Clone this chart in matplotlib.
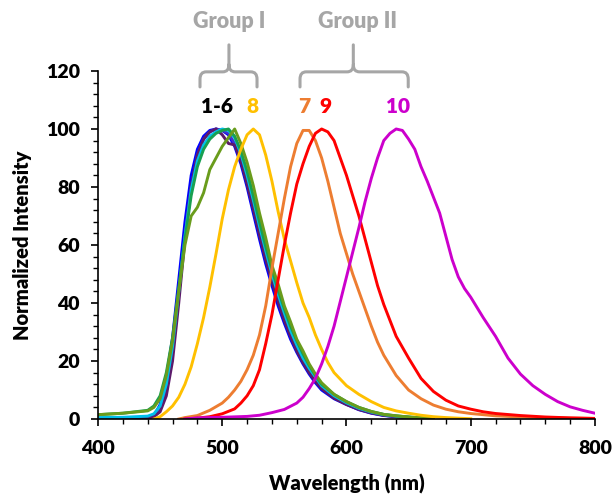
import matplotlib
matplotlib.use("Agg")
import matplotlib.pyplot as plt
from matplotlib.path import Path
from matplotlib.patches import PathPatch
from matplotlib.ticker import MultipleLocator

plt.rcParams['font.family'] = ['Lato', 'DejaVu Sans']
plt.rcParams['font.weight'] = 'heavy'
FW = 'heavy'

# --- data (wavelength in nm, normalized intensity) ---
wl_g1 = [400, 420, 440, 445, 450, 455, 460, 465, 470, 475, 480, 485, 490, 495, 500,
         505, 510, 515, 520, 525, 530, 535, 540, 545, 550, 555, 560, 565, 570, 575,
         580, 590, 600, 610, 620, 630, 640, 650, 660, 670]
s1 = [0, 0, 0.3, 1, 5, 14, 28, 48, 68, 84, 93, 97.5, 99.5, 100, 99.5, 98, 94, 88, 80, 71,
      62, 53.5, 46, 39, 33, 27.5, 23, 19, 15.5, 12.5, 10, 7, 5, 3.2, 2, 1.2, 0.8, 0.5, 0.3, 0.1]
s2 = [0, 0, 0.3, 0.8, 3.5, 11, 24, 43, 63, 80, 91, 96.5, 99, 100, 99.5, 98.5, 95, 89.5, 82, 73,
      64, 55.5, 48, 41, 34.5, 29, 24, 20, 16.5, 13.5, 11, 7.5, 5.3, 3.4, 2.2, 1.3, 0.9, 0.6, 0.3, 0.1]
s3 = [0.3, 0.3, 0.5, 0.8, 2.5, 8, 20, 40, 62, 80, 91, 96.5, 99, 100, 98, 95, 94.5, 89, 81, 72.5,
      63.5, 55, 47.5, 40.5, 34, 28.5, 23.5, 19.5, 16, 13, 10.5, 7.2, 5, 3.3, 2.1, 1.3, 0.8, 0.5, 0.3, 0.1]
s4 = [0.5, 0.6, 1, 1.8, 4.5, 12, 25, 44, 63, 79, 89, 94.5, 97.5, 99, 100, 99.5, 97, 91.5, 84, 75.5,
      66.5, 58, 50, 43, 36.5, 30.5, 25.5, 21, 17.5, 14.5, 11.5, 8, 5.6, 3.7, 2.4, 1.5, 1, 0.6, 0.3, 0.1]
s5 = [1.5, 2, 3, 4.5, 8, 16, 28, 45, 62, 77, 87, 93, 96.5, 98.5, 99.5, 100, 97.5, 92.5, 85.5, 77,
      68, 59.5, 51.5, 44.5, 38, 32, 27, 22.5, 18.5, 15, 12, 8.5, 6, 4, 2.6, 1.6, 1.1, 0.7, 0.4, 0.2]
s6 = [1.5, 2, 2.8, 4, 7, 15, 27, 44, 60, 70, 73, 78, 86, 90, 94, 97, 100, 95, 88.5, 80.5,
      71, 62.5, 53, 46.5, 39, 33.5, 27.5, 23.5, 19, 15.5, 12.5, 8.5, 6, 4, 2.6, 1.6, 1.1, 0.7, 0.4, 0.2]

wl_8 = [445, 450, 455, 460, 465, 470, 475, 480, 485, 490, 495, 500, 505, 510, 515, 520, 525,
        530, 535, 540, 545, 550, 555, 560, 565, 570, 575, 580, 585, 590, 600, 610, 620, 630,
        640, 650, 660, 670, 680, 690, 700]
s8 = [0, 0.8, 2.5, 4.5, 7.5, 12, 18, 26, 35, 45.5, 57, 69, 79, 87, 93, 98, 100,
      98, 91, 82, 71.5, 62, 54.5, 47, 40, 35, 29, 24, 19.5, 16, 11.5, 8.5, 6, 4,
      2.8, 2, 1.3, 0.8, 0.5, 0.3, 0.1]

wl_7 = [465, 470, 480, 490, 500, 505, 510, 515, 520, 525, 530, 535, 540, 545, 550, 555, 560,
        565, 570, 575, 580, 585, 590, 595, 600, 605, 610, 615, 620, 625, 630, 640, 650, 660,
        670, 680, 690, 700, 720, 740, 760, 780, 800]
s7 = [0, 0.5, 1.2, 3, 5.5, 7.5, 10, 13, 17, 22, 29, 39, 52, 64, 76, 87, 95,
      99.5, 99.5, 96, 90, 82, 73, 64, 57, 50, 44, 38, 32, 26.5, 22, 15, 10, 7,
      4.8, 3.4, 2.5, 1.9, 1.1, 0.7, 0.5, 0.3, 0.2]

wl_9 = [470, 480, 490, 500, 510, 515, 520, 525, 530, 535, 540, 545, 550, 555, 560, 565, 570,
        575, 580, 585, 590, 595, 600, 605, 610, 615, 620, 625, 630, 640, 650, 660, 670, 680,
        690, 700, 710, 720, 740, 760, 780, 800]
s9 = [0, 0.3, 0.8, 1.8, 3.5, 5.5, 8, 11.5, 17, 26, 36, 48, 60, 71, 81, 88, 94,
      98.5, 100, 99, 96, 90, 84, 77, 70, 62, 54, 46, 39.5, 28.5, 21, 14, 9.5, 6.5,
      4.5, 3.4, 2.5, 1.9, 1.2, 0.7, 0.4, 0.2]

wl_10 = [470, 480, 500, 520, 530, 540, 550, 560, 565, 570, 575, 580, 585, 590, 595, 600, 605,
         610, 615, 620, 625, 630, 635, 640, 645, 650, 655, 660, 665, 670, 675, 680, 685, 690,
         695, 700, 710, 720, 730, 740, 750, 760, 770, 780, 790, 800]
s10 = [0, 0.4, 0.6, 0.9, 1.3, 2.2, 3.3, 5.5, 7.5, 10.5, 14, 19, 25, 32, 40.5, 49, 57.5,
       66, 75, 83, 90, 96, 98.5, 100, 99.5, 96.5, 93, 87, 82, 76.5, 71, 63, 55, 49,
       45, 42, 35, 28.5, 21, 15.5, 11.5, 8.5, 6, 4.2, 3, 2]

group1 = [s1, s2, s3, s4, s5, s6]
group1_colors = ['#0000FF', '#4433CC', '#5C1A6B', '#00BFEA', '#18A050', '#6A9C1C']

labels = ['1-6', '8', '7', '9', '10']
label_x = [495.5, 524.5, 566, 583.3, 641.7]
label_colors = ['black', '#FFC000', '#ED7D31', '#FF0000', '#CC00CC']

fig = plt.figure(figsize=(6.14, 4.96), dpi=100)
ax = fig.add_axes([0.1596, 0.1552, 0.8094, 0.7017])

lw = 2.1
for s, c in zip(group1, group1_colors):
    ax.plot(wl_g1, s, color=c, lw=lw)
ax.plot(wl_8, s8, color='#FFC000', lw=lw)
ax.plot(wl_7, s7, color='#ED7D31', lw=lw)
ax.plot(wl_9, s9, color='#FF0000', lw=lw)
ax.plot(wl_10, s10, color='#CC00CC', lw=lw)

ax.set_xlim(400, 800)
ax.set_ylim(0, 120)
ax.xaxis.set_major_locator(MultipleLocator(100))
ax.xaxis.set_minor_locator(MultipleLocator(20))
ax.yaxis.set_major_locator(MultipleLocator(20))
ax.yaxis.set_minor_locator(MultipleLocator(4))
ax.spines['top'].set_visible(False)
ax.spines['right'].set_visible(False)
for sp in ['left', 'bottom']:
    ax.spines[sp].set_linewidth(1.2)
ax.tick_params(which='major', direction='out', length=5, width=1.2, labelsize=14)
ax.tick_params(which='minor', direction='out', length=3.5, width=1.0)
ax.tick_params(axis='x', which='major', pad=10)
ax.tick_params(axis='y', which='major', pad=8)
for lab in ax.get_xticklabels() + ax.get_yticklabels():
    lab.set_fontweight(FW)

ax.set_xlabel('Wavelength (nm)', fontsize=14.5, fontweight=FW, labelpad=12)
ax.set_ylabel('Normalized Intensity', fontsize=14.5, fontweight=FW, labelpad=10)

# curve labels above the peaks
for t, x, c in zip(labels, label_x, label_colors):
    ax.text(x, 107.7, t, color=c, fontsize=15, fontweight=FW,
            ha='center', va='center', clip_on=False)


def brace(x0, x1, xm, y_bar, y_tip, y_top, rx=5.0, ry=2.5):
    verts = [(x0, y_tip), (x0, y_bar - ry), (x0, y_bar), (x0 + rx, y_bar),
             (xm - rx, y_bar), (xm, y_bar), (xm, y_bar + ry), (xm, y_top),
             (xm, y_bar + ry), (xm, y_bar), (xm + rx, y_bar),
             (x1 - rx, y_bar), (x1, y_bar), (x1, y_bar - ry), (x1, y_tip)]
    codes = [Path.MOVETO, Path.LINETO, Path.CURVE3, Path.CURVE3,
             Path.LINETO, Path.CURVE3, Path.CURVE3, Path.LINETO,
             Path.MOVETO, Path.CURVE3, Path.CURVE3,
             Path.LINETO, Path.CURVE3, Path.CURVE3, Path.LINETO]
    p = PathPatch(Path(verts, codes), fill=False, edgecolor='#A6A6A6', lw=2.2,
                  clip_on=False, capstyle='round')
    ax.add_patch(p)


brace(482.1, 528.0, 505.4, 119.7, 114.5, 129.0)
brace(562.6, 649.7, 605.5, 119.7, 114.5, 129.0)
ax.text(505.4, 136.9, 'Group I', color='#A6A6A6', fontsize=15.5, fontweight=FW,
        ha='center', va='center', clip_on=False)
ax.text(608.9, 136.9, 'Group II', color='#A6A6A6', fontsize=15.5, fontweight=FW,
        ha='center', va='center', clip_on=False)

fig.savefig('out.png', dpi=100)
